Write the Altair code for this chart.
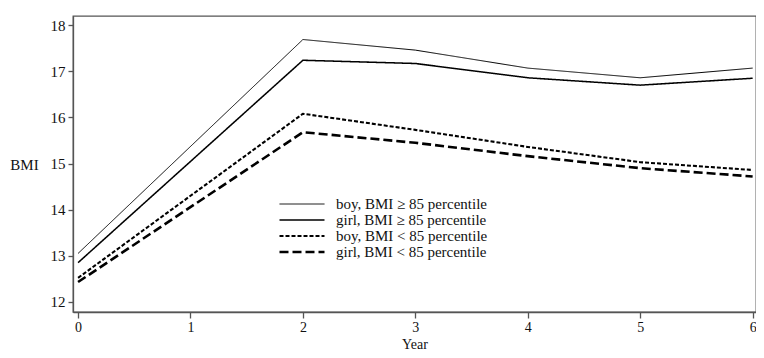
import altair as alt
import pandas as pd

years = [0, 2, 3, 4, 5, 6]
groups = ["boy, BMI ≥ 85 percentile", "girl, BMI ≥ 85 percentile",
          "boy, BMI < 85 percentile", "girl, BMI < 85 percentile"]
boy_hi = [13.05, 17.69, 17.46, 17.07, 16.86, 17.07]
girl_hi = [12.85, 17.24, 17.17, 16.86, 16.70, 16.85]
boy_lo = [12.52, 16.08, 15.73, 15.36, 15.03, 14.86]
girl_lo = [12.43, 15.68, 15.45, 15.16, 14.90, 14.72]
series = [boy_hi, girl_hi, boy_lo, girl_lo]

rows = []
for g, vals in zip(groups, series):
    for yr, v in zip(years, vals):
        rows.append({"Year": yr, "BMI": v, "group": g})
df = pd.DataFrame(rows)

FONT = "Liberation Serif"

legend = alt.Legend(
    title=None, orient="none", legendX=205, legendY=180,
    symbolType="stroke", symbolSize=2025, symbolStrokeColor="black",
    labelFont=FONT, labelFontSize=15, labelColor="#111",
    clipHeight=16, rowPadding=0, labelOffset=10, padding=0,
    labelLimit=400,
)

chart = alt.Chart(df).mark_line(color="black").encode(
    x=alt.X("Year:Q",
            scale=alt.Scale(domain=[-0.045, 6.03], nice=False, zero=False),
            axis=alt.Axis(values=[0, 1, 2, 3, 4, 5, 6], format="d", title="Year",
                          tickSize=6, labelPadding=2, labelFontSize=14,
                          titleY=36, titleFontSize=14,
                          titleBaseline="alphabetic")),
    y=alt.Y("BMI:Q",
            scale=alt.Scale(domain=[11.78, 18.2], nice=False, zero=False),
            axis=alt.Axis(values=[12, 13, 14, 15, 16, 17, 18], format="d", title="BMI",
                          tickSize=5, labelPadding=3, titleAngle=0,
                          titleX=-49, titleY=148, titleAlign="center",
                          titleBaseline="middle")),
    strokeDash=alt.StrokeDash("group:N",
                              scale=alt.Scale(domain=groups,
                                              range=[[1, 0], [1, 0], [4, 2], [9, 4]]),
                              legend=legend),
    strokeWidth=alt.StrokeWidth("group:N",
                                scale=alt.Scale(domain=groups, range=[1, 2.6, 1.8, 3]),
                                legend=legend),
    detail="group:N",
).properties(
    width=683, height=296,
    autosize=alt.AutoSizeParams(type="none"),
    padding={"left": 65, "top": 8, "right": 0, "bottom": 38},
).configure_view(
    stroke="#555", strokeWidth=1.3,
).configure_axis(
    grid=False, domainColor="#555", domainWidth=1.3, tickColor="#555", tickWidth=1.3,
    labelFont=FONT, labelFontSize=15, labelColor="#111",
    titleFont=FONT, titleFontSize=15, titleColor="#111", titleFontWeight="normal",
)

chart.save("out.html", embed_options={"renderer": "svg", "actions": False})
